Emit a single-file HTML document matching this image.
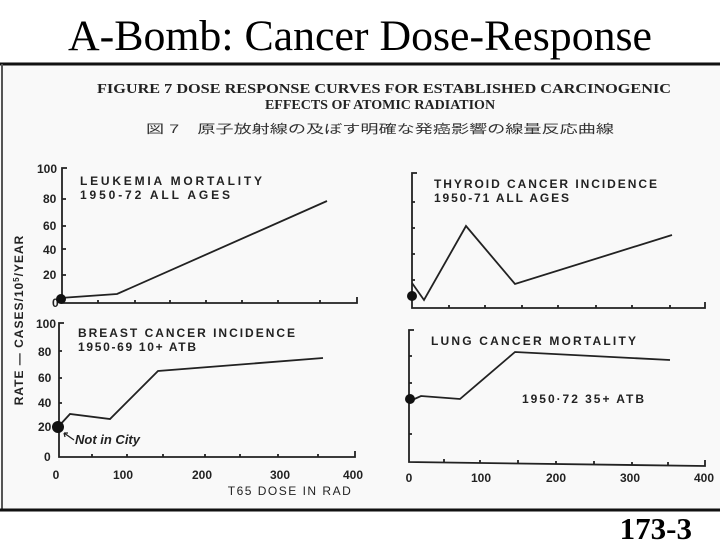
<!DOCTYPE html>
<html><head><meta charset="utf-8"><style>
html,body{margin:0;padding:0;background:#fff;}
svg{display:block;}
</style></head><body>
<svg width="720" height="540" xmlns="http://www.w3.org/2000/svg">
<rect width="720" height="540" fill="#fff"/>
<text x="360" y="50" font-family="Liberation Serif, serif" font-size="43" text-anchor="middle" textLength="584" lengthAdjust="spacingAndGlyphs">A-Bomb: Cancer Dose-Response</text>
<rect x="0" y="62" width="720" height="450" fill="#f9f9f9"/>
<line x1="0" y1="64" x2="720" y2="64" stroke="#111" stroke-width="3"/>
<line x1="2" y1="64" x2="2" y2="510" stroke="#555" stroke-width="2"/>
<line x1="0" y1="510" x2="720" y2="510" stroke="#111" stroke-width="3"/>
<text x="692" y="539" font-family="Liberation Serif, serif" font-size="31" font-weight="bold" text-anchor="end">173-3</text>
<g font-family="Liberation Serif, serif" font-size="14" fill="#222" text-anchor="middle" font-weight="bold">
<text x="384" y="93" textLength="574" lengthAdjust="spacingAndGlyphs">FIGURE 7  DOSE RESPONSE CURVES FOR ESTABLISHED CARCINOGENIC</text>
<text x="380" y="109">EFFECTS OF ATOMIC RADIATION</text>
</g>
<text x="380" y="133" font-family="Liberation Sans, 'Noto Sans CJK JP', sans-serif" font-size="12" fill="#333" text-anchor="middle" textLength="468" lengthAdjust="spacingAndGlyphs">図 7　原子放射線の及ぼす明確な発癌影響の線量反応曲線</text>
<g font-family="Liberation Sans, sans-serif" font-size="12" fill="#222" font-weight="bold">
<text transform="translate(23,320) rotate(-90)" text-anchor="middle" letter-spacing="1">RATE — CASES/10<tspan font-size="8" dy="-4">5</tspan><tspan dy="4">/YEAR</tspan></text>
<text x="290" y="495" text-anchor="middle" letter-spacing="1.5" font-weight="normal">T65 DOSE IN RAD</text>
<text x="37" y="173">100</text><text x="43" y="203">80</text><text x="43" y="230">60</text><text x="43" y="254">40</text><text x="43" y="279">20</text><text x="52" y="307">0</text>
<text x="80" y="185" textLength="182">LEUKEMIA MORTALITY</text>
<text x="80" y="199" textLength="150">1950-72 ALL AGES</text>
<text x="434" y="188" textLength="223">THYROID CANCER INCIDENCE</text>
<text x="434" y="202" textLength="135">1950-71 ALL AGES</text>
<text x="36" y="328">100</text><text x="38" y="356">80</text><text x="38" y="382">60</text><text x="38" y="407">40</text><text x="38" y="431">20</text><text x="44" y="461">0</text>
<text x="78" y="337" textLength="217">BREAST CANCER INCIDENCE</text>
<text x="78" y="351" textLength="118">1950-69 10+ ATB</text>
<text x="75" y="444" font-style="italic" font-size="13">Not in City</text>
<text x="56" y="479" text-anchor="middle">0</text><text x="123" y="479" text-anchor="middle">100</text><text x="202" y="479" text-anchor="middle">200</text><text x="280" y="479" text-anchor="middle">300</text><text x="353" y="479" text-anchor="middle">400</text>
<text x="431" y="345" textLength="205">LUNG CANCER MORTALITY</text>
<text x="522" y="403" textLength="122">1950·72  35+ ATB</text>
<text x="409" y="482" text-anchor="middle">0</text><text x="481" y="482" text-anchor="middle">100</text><text x="556" y="482" text-anchor="middle">200</text><text x="630" y="482" text-anchor="middle">300</text><text x="704" y="482" text-anchor="middle">400</text>
</g>
<g stroke="#222" stroke-width="1.8" fill="none">
<path d="M67,168 H62 V303 H357 V297"/>
<path d="M62,199h4M62,226h4M62,249h4M62,275h4"/>
<path d="M98,303v-3M135,303v-3M170,303v-3M206,303v-3M242,303v-3M278,303v-3M320,303v-3"/>
<polyline points="60,298 117,294 327,201"/>
<path d="M417,173 H412 V308 H705 V302"/>
<path d="M412,202h3M412,228h3M412,254h3M412,280h3"/>
<path d="M449,308v-3M485,308v-3M522,308v-3M558,308v-3M596,308v-3M632,308v-3M670,308v-3"/>
<polyline points="412,283 424,300 466,226 515,284 672,235"/>
<path d="M64,323 H59 V457 H355 V451"/>
<path d="M59,351h3M59,378h3M59,403h3M59,427h3"/>
<path d="M92,457v-3M127,457v-3M163,457v-3M205,457v-3M240,457v-3M278,457v-3M318,457v-3"/>
<polyline points="58,427 70,414 110,419 158,371 323,358"/>
<path d="M74,440 L64,433 M64,433 l1,4 M64,433 l4,0" stroke-width="1.3"/>
<path d="M414,330 H409 V462 L705,466 V460"/>
<path d="M409,356h3M409,383h3M409,434h3"/>
<path d="M444,462v-3M480,463v-3M518,463v-3M556,464v-3M594,464v-3M632,465v-3M668,465v-3"/>
<polyline points="410,401 421,396 460,399 515,352 670,360"/>
</g>
<g fill="#111">
<circle cx="61" cy="299" r="5"/>
<circle cx="412" cy="296" r="5"/>
<circle cx="58" cy="427" r="6"/>
<circle cx="410" cy="399" r="5"/>
</g>
</svg>
</body></html>
